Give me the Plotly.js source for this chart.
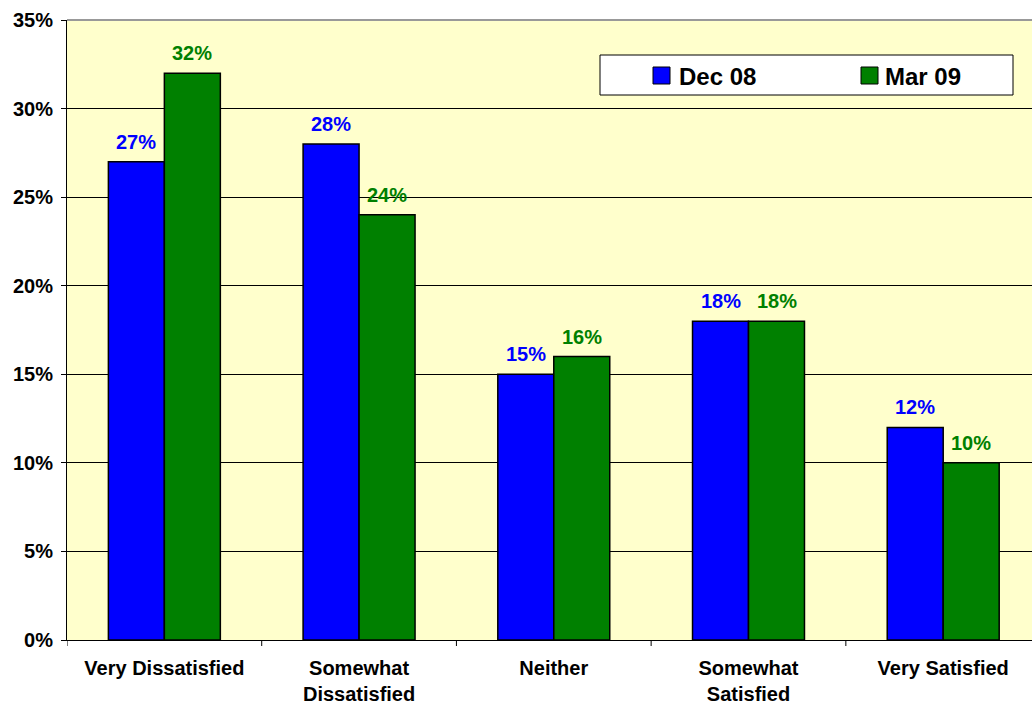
<!DOCTYPE html>
<html>
<head>
<meta charset="utf-8">
<script src="https://cdn.plot.ly/plotly-3.0.1.min.js"></script>
<style>html,body{margin:0;padding:0;background:#fff;}#chart{width:1032px;height:705px;}</style>
</head>
<body>
<div id="chart"></div>
<script>
var categories = ["Very Dissatisfied", "Somewhat<br>Dissatisfied", "Neither", "Somewhat<br>Satisfied", "Very Satisfied"];
var dec08 = [0.27, 0.28, 0.15, 0.18, 0.12];
var mar09 = [0.32, 0.24, 0.16, 0.18, 0.10];
var seriesNames = ["Dec 08", "Mar 09"];
var seriesColors = ["#0000FF", "#008000"];
var yTicks = [0, 0.05, 0.10, 0.15, 0.20, 0.25, 0.30, 0.35];

var FAM = "Liberation Sans, Arial, sans-serif";
var font = {family: FAM, size: 20, color: "#000", weight: "bold"};
function pct(v){ return Math.round(v*100) + "%"; }

// plot area geometry (pixels)
var L = 67, T = 20, W = 1032, H = 705, B = 65;
var PW = W - L, PH = H - T - B;
function px2x(p){ return (p - L) / PW; }
function px2y(p){ return (H - B - p) / PH; }

var series = [dec08, mar09];
var traces = series.map(function(vals, i){
  return {type: "bar", name: seriesNames[i], x: categories, y: vals,
    marker: {color: seriesColors[i], line: {color: "#000", width: 1.5}}, hoverinfo: "none"};
});

var annotations = [];
var halfBar = 28;
series.forEach(function(vals, i){
  vals.forEach(function(v, j){
    annotations.push({x: categories[j], y: v, xref: "x", yref: "y", text: pct(v), showarrow: false,
      xanchor: "center", yanchor: "bottom", xshift: (i === 0 ? -halfBar : halfBar), yshift: 7,
      font: {family: FAM, size: 20, color: seriesColors[i], weight: "bold"}});
  });
});

var shapes = [
  {type: "line", xref: "paper", yref: "paper", x0: 0, x1: 1, y0: 1, y1: 1, line: {color: "#999", width: 2}},
  // legend box
  {type: "rect", xref: "paper", yref: "paper", x0: px2x(600), x1: px2x(1013), y0: px2y(95), y1: px2y(55),
   fillcolor: "#fff", line: {color: "#000", width: 1}}
];
// category boundary tick marks
for (var k = -1; k < 5; k++) {
  shapes.push({type: "line", xref: "x", yref: "paper", x0: k + 0.5, x1: k + 0.5, y0: 0, y1: -6/PH, line: {color: "#000", width: 1}});
}
// legend entries
var legSym = [653, 861], legTxt = [677, 883];
seriesNames.forEach(function(n, i){
  shapes.push({type: "rect", xref: "paper", yref: "paper", x0: px2x(legSym[i]), x1: px2x(legSym[i] + 17),
    y0: px2y(84), y1: px2y(67), fillcolor: seriesColors[i], line: {color: "#000", width: 1}});
  annotations.push({xref: "paper", yref: "paper", x: px2x(legTxt[i]), y: px2y(76), text: n, showarrow: false,
    xanchor: "left", yanchor: "middle", font: {family: FAM, size: 24, color: "#000", weight: "bold"}});
});

var layout = {
  width: W, height: H,
  margin: {l: L, r: 0, t: T, b: B},
  paper_bgcolor: "#fff",
  plot_bgcolor: "#FFFFCC",
  barmode: "group",
  bargap: 0.425,
  bargroupgap: 0,
  font: font,
  showlegend: false,
  xaxis: {
    range: [-0.5, 4.456], automargin: false,
    showline: true, linecolor: "#000", linewidth: 1,
    ticks: "", tickfont: font, ticklabelstandoff: 10,
    showgrid: false
  },
  yaxis: {
    range: [0, 0.35], tickvals: yTicks, tickformat: ".0%", automargin: false,
    showline: true, linecolor: "#000", linewidth: 1,
    ticks: "outside", ticklen: 5, tickcolor: "#000", ticklabelstandoff: 4,
    showgrid: true, gridcolor: "#000", gridwidth: 1,
    zeroline: false, tickfont: font
  },
  shapes: shapes,
  annotations: annotations
};
Plotly.newPlot("chart", traces, layout, {displayModeBar: false, staticPlot: true});
</script>
</body>
</html>
